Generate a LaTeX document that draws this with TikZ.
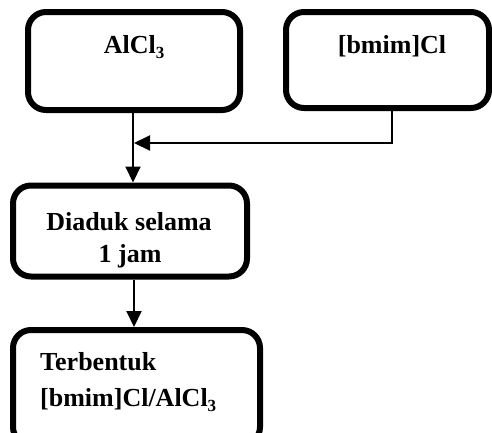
\documentclass[tikz,border=0pt]{standalone}
\usepackage{fontspec}
\setmainfont{Liberation Serif}
\usetikzlibrary{arrows.meta}
\newcommand\mysubs[1]{\raisebox{-5pt}{\fontsize{17}{17}\selectfont #1}}
\begin{document}
\begin{tikzpicture}[x=1pt,y=-1pt,
  boxshape/.style={draw=black, line width=6pt, rounded corners=18pt, rectangle, inner sep=0pt, fill=white},
  lbl/.style={font=\bfseries\fontsize{26}{32}\selectfont, inner sep=0pt, align=center},
  arr/.style={line width=2pt, -{Triangle[length=16pt,width=15pt]}},
  ln/.style={line width=2pt}]
\useasboundingbox (0,0) rectangle (492,432);
\clip (0,0) rectangle (492,432);
\fill[white] (0,0) rectangle (492,432);
% boxes
\node[boxshape, minimum width=212pt, minimum height=98pt] (alcl) at (134,61) {};
\node[boxshape, minimum width=203pt, minimum height=96pt] (bmim) at (387.5,60) {};
\node[boxshape, minimum width=234pt, minimum height=91pt] (diaduk) at (130,231) {};
\node[boxshape, minimum width=247pt, minimum height=115pt] (terb) at (136.5,387.5) {};
% labels
\node[lbl, anchor=base] (t1) at (134,53) {AlCl\mysubs{3}};
\node[lbl, anchor=base] (t2) at (392,53) {[bmim]Cl};
\node[lbl, anchor=base] (t3a) at (129,230) {Diaduk selama};
\node[lbl, anchor=base] (t3b) at (130,262) {1 jam};
\node[lbl, anchor=base west] (t4a) at (40,370) {Terbentuk};
\node[lbl, anchor=base west] (t4b) at (40,406) {[bmim]Cl/AlCl\mysubs{3}};
% connectors
\coordinate (a1) at (133,0);
\coordinate (j) at (134,143);
\coordinate (b1) at (392,0);
\coordinate (c1) at (134,0);
\draw[arr] (alcl.south -| a1) -- (diaduk.north -| a1);
\draw[arr] (bmim.south -| b1) |- (j);
\draw[arr] (diaduk.south -| c1) -- (terb.north -| c1);
\end{tikzpicture}
\end{document}
